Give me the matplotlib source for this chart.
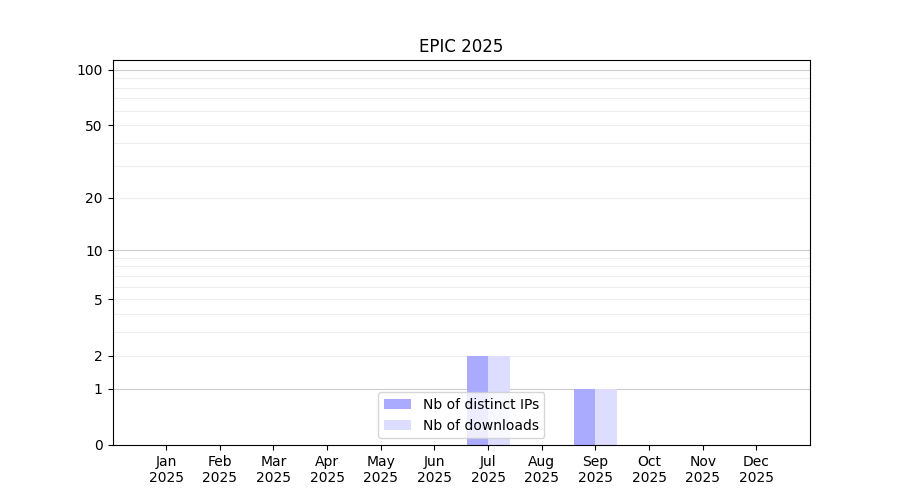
import numpy as np
import matplotlib
matplotlib.use("Agg")
import matplotlib.pyplot as plt

months = ["Jan\n2025", "Feb\n2025", "Mar\n2025", "Apr\n2025", "May\n2025", "Jun\n2025",
          "Jul\n2025", "Aug\n2025", "Sep\n2025", "Oct\n2025", "Nov\n2025", "Dec\n2025"]
distinct_ips = [0, 0, 0, 0, 0, 0, 2, 0, 1, 0, 0, 0]
downloads = [0, 0, 0, 0, 0, 0, 2, 0, 1, 0, 0, 0]
major_ticks = [0, 1, 2, 5, 10, 20, 50, 100]
minor_ticks = [3, 4, 6, 7, 8, 9, 30, 40, 60, 70, 80, 90]
strong_grid = [1, 10, 100]

fig, ax = plt.subplots(figsize=(9, 5), dpi=100)
ax.set_yscale('function', functions=(lambda v: np.log10(np.asarray(v) + 1.0),
                                     lambda v: 10 ** np.asarray(v) - 1.0))
x = np.arange(1, len(months) + 1)
ax.bar(x - 0.2, distinct_ips, width=0.4, color='#aaaaff', label='Nb of distinct IPs', zorder=2)
ax.bar(x + 0.2, downloads, width=0.4, color='#ddddff', label='Nb of downloads', zorder=2)
ax.set_xticks(x)
ax.set_xticklabels(months)
ax.set_xlim(0, 13)
ax.set_ylim(0, 113)
ax.set_yticks(major_ticks)
ax.set_yticklabels([str(t) for t in major_ticks])
ax.set_yticks(minor_ticks, minor=True)
ax.tick_params(axis='y', which='minor', length=0)
ax.grid(True, axis='y', which='both', zorder=0)
for t, gl in zip(major_ticks, ax.yaxis.get_gridlines()):
    gl.set_color('#cccccc' if t in strong_grid else '#eeeeee')
    gl.set_linewidth(0.8)
    if t == 0:
        gl.set_visible(False)
for gl in ax.yaxis.get_minorticklines():
    pass
for tick in ax.yaxis.get_minor_ticks():
    tick.gridline.set_color('#eeeeee')
    tick.gridline.set_linewidth(0.8)
ax.set_axisbelow(True)
ax.set_title('EPIC 2025')
ax.legend(loc='lower center')
fig.savefig('out.png')
